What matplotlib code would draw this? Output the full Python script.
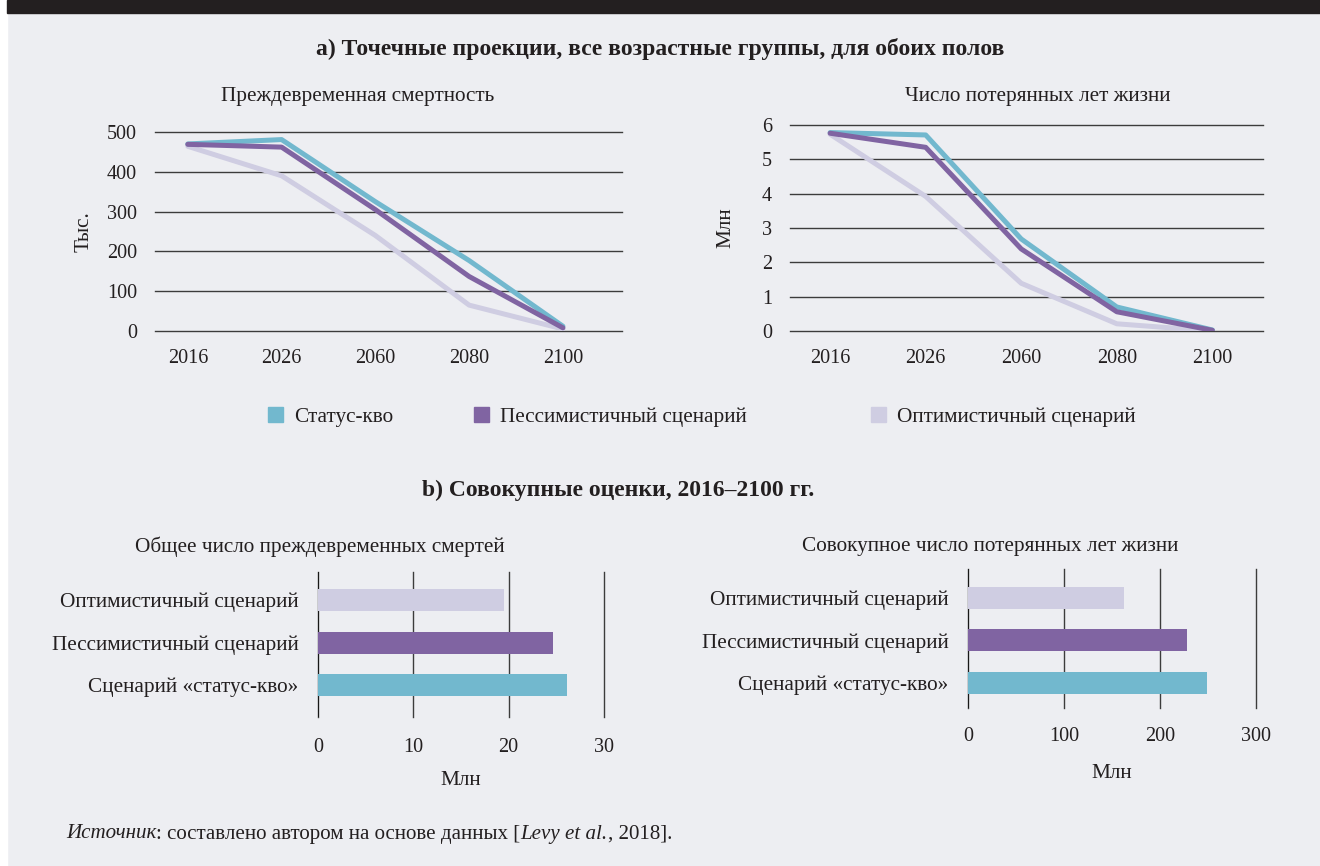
import matplotlib.pyplot as plt
from matplotlib.patches import Patch, Rectangle

plt.rcParams['font.family'] = ['Liberation Serif', 'DejaVu Serif']

W, H = 1320, 866
BG = '#EDEEF2'
INK = '#231F20'
GRID = '#3C3C3C'

years = ['2016', '2026', '2060', '2080', '2100']
scen_names = ['Статус-кво', 'Пессимистичный сценарий', 'Оптимистичный сценарий']
scen_colors = ['#72B8CE', '#8064A2', '#CFCDE2']

# premature deaths, thousands
deaths_sq = [470, 481, 325, 177, 12]
deaths_pess = [469, 462, 305, 137, 8]
deaths_opt = [464, 390, 240, 65, 5]

# years of life lost, millions
yll_sq = [5.78, 5.71, 2.68, 0.70, 0.03]
yll_pess = [5.76, 5.35, 2.39, 0.56, 0.02]
yll_opt = [5.73, 3.92, 1.39, 0.21, 0.0]

# cumulative 2016-2100
bar_labels = ['Сценарий «статус-кво»', 'Пессимистичный сценарий', 'Оптимистичный сценарий']
cum_deaths = [26.1, 24.6, 19.5]
cum_yll = [249, 228, 162]

FS = 15.3      # words
FN = 14.5      # numbers

fig = plt.figure(figsize=(W / 100, H / 100), dpi=100)
fig.patch.set_facecolor(BG)


def px_axes(x0, y0, x1, y1):
    ax = fig.add_axes([x0 / W, 1 - y1 / H, (x1 - x0) / W, (y1 - y0) / H])
    ax.set_facecolor('none')
    for s in ax.spines.values():
        s.set_visible(False)
    ax.tick_params(length=0, labelsize=FN, colors=INK)
    return ax


# page frame bits
fig.add_artist(Rectangle((0, 0), 7 / W, 1, transform=fig.transFigure, color='white', zorder=0))
fig.add_artist(Rectangle((7 / W, 1 - 13 / H), 1, 13 / H, transform=fig.transFigure, color=INK, zorder=0))


def line_chart(ax, series, yticks, xlim, ylabel, ylabel_x):
    ax.set_axisbelow(True)
    ax.yaxis.grid(True, color=GRID, lw=1.0)
    ax.xaxis.grid(False)
    x = range(len(years))
    # light series beneath, then cyan, purple on top
    for vals, col, z in zip(series, scen_colors, [3, 4, 2]):
        ax.plot(x, vals, color=col, lw=3.6, zorder=z, solid_capstyle='round')
    ax.set_xticks(list(x))
    ax.set_xticklabels(years)
    ax.set_yticks(yticks)
    ax.set_ylim(yticks[0], yticks[-1])
    ax.set_xlim(*xlim)
    ax.tick_params(axis='x', pad=13)
    ax.tick_params(axis='y', pad=13)
    ax.set_ylabel(ylabel, fontsize=FS, color=INK)
    ax.yaxis.set_label_coords(ylabel_x, 0.5)
    for gl in ax.get_ygridlines():
        gl.set_clip_on(False)


ax1 = px_axes(155, 132, 622, 331)
line_chart(ax1, [deaths_sq, deaths_pess, deaths_opt], [0, 100, 200, 300, 400, 500],
           (-0.35, 4.63), 'Тыс.', -0.132)

ax2 = px_axes(790, 125, 1263, 331)
line_chart(ax2, [yll_sq, yll_pess, yll_opt], [0, 1, 2, 3, 4, 5, 6],
           (-0.42, 4.53), 'Млн', -0.116)


def bar_chart(ax, vals, xticks, ylim):
    pos = range(len(bar_labels))
    ax.barh(list(pos), vals, height=0.52, color=scen_colors, zorder=2)
    ax.set_yticks(list(pos))
    ax.set_yticklabels(bar_labels, fontsize=FS)
    ax.set_ylim(*ylim)
    ax.set_xticks(xticks)
    ax.set_xlim(xticks[0], xticks[-1])
    ax.xaxis.grid(True, color=GRID, lw=1.0)
    ax.yaxis.grid(False)
    ax.set_axisbelow(True)
    ax.axvline(0, color='#111111', lw=1.2, zorder=1)
    for gl in ax.get_xgridlines():
        gl.set_clip_on(False)
    ax.tick_params(axis='x', pad=15)
    ax.tick_params(axis='y', pad=14)
    ax.set_xlabel('Млн', fontsize=FS, color=INK, labelpad=10)


ax3 = px_axes(318, 572, 604, 717)
bar_chart(ax3, cum_deaths, [0, 10, 20, 30], (-0.75, 2.66))

ax4 = px_axes(968, 569, 1256, 708)
bar_chart(ax4, cum_yll, [0, 100, 200, 300], (-0.59, 2.68))
ax4.tick_params(axis='x', pad=14)
ax4.xaxis.labelpad = 13

# legend, one entry per scenario
leg_x = [268, 474, 871]
for name, col, lx in zip(scen_names, scen_colors, leg_x):
    lg = fig.legend(handles=[Patch(color=col, label=name)], loc='center left',
                    bbox_to_anchor=(lx / W, 1 - 417 / H), frameon=False,
                    fontsize=FS, handlelength=0.72, handleheight=0.72,
                    handletextpad=0.5, borderpad=0, borderaxespad=0)
    for t in lg.get_texts():
        t.set_color(INK)


def ftext(x, y, s, **kw):
    kw.setdefault('fontsize', FS)
    kw.setdefault('color', INK)
    return fig.text(x / W, 1 - y / H, s, ha=kw.pop('ha', 'center'), va='center', **kw)


ftext(660, 49, 'а) Точечные проекции, все возрастные группы, для обоих полов', fontweight='bold', fontsize=17)
ftext(358, 97, 'Преждевременная смертность')
ftext(1038, 97, 'Число потерянных лет жизни')
ftext(618, 490, 'b) Совокупные оценки, 2016–2100 гг.', fontweight='bold', fontsize=17)
ftext(320, 547, 'Общее число преждевременных смертей')
ftext(990, 547, 'Совокупное число потерянных лет жизни')

# source line with mixed styles
parts = [('Источник', 'italic'), (': составлено автором на основе данных [', 'normal'),
         ('Levy et al.', 'italic'), (', 2018].', 'normal')]
fig.canvas.draw()
r = fig.canvas.get_renderer()
x = 66
for s, st in parts:
    t = ftext(x, 834, s, ha='left', style=st, fontsize=15.1)
    x += t.get_window_extent(renderer=r).width

fig.savefig('out.png', dpi=100, facecolor=BG)
